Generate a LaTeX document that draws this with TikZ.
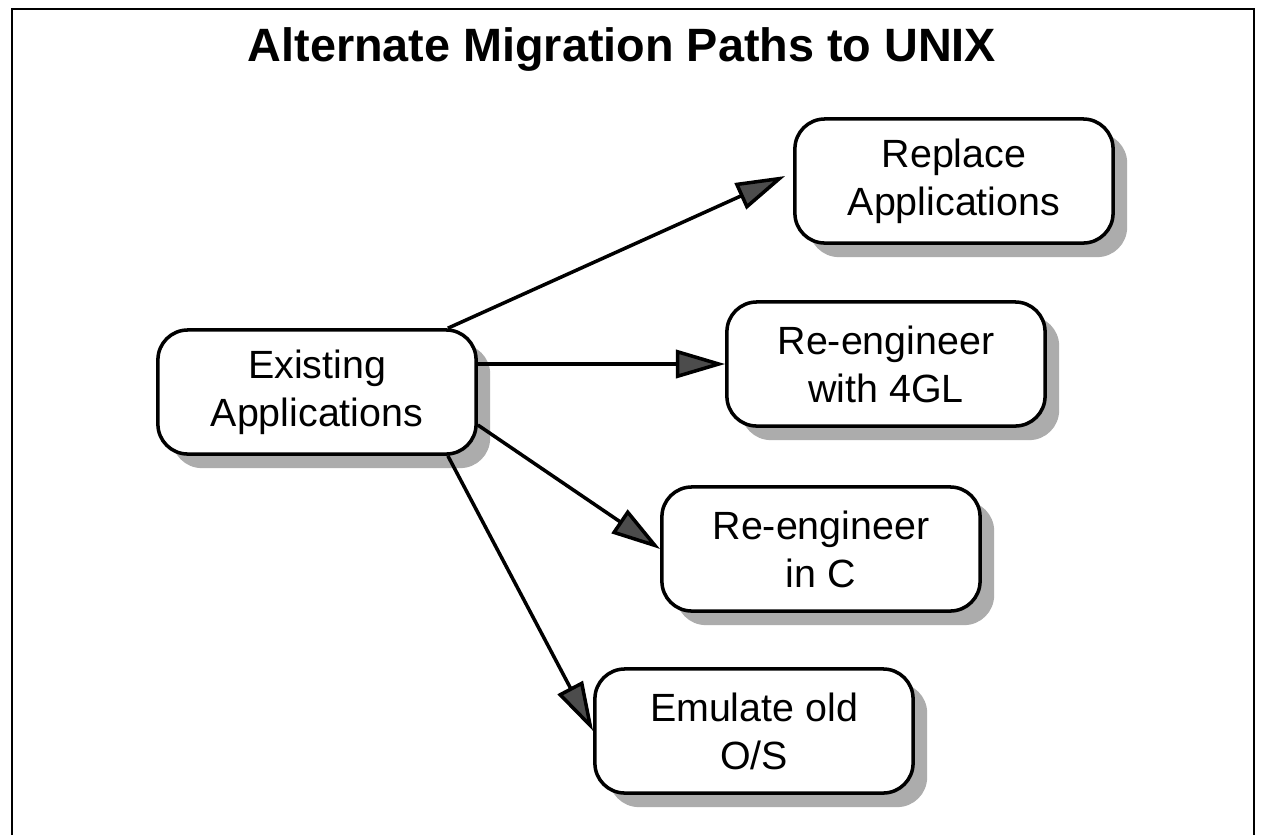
\documentclass[tikz,border=0pt]{standalone}
\usepackage{fontspec}
\setmainfont{Liberation Sans}
\usetikzlibrary{arrows.meta,shadows,calc}
\begin{document}
\begin{tikzpicture}[x=0.01cm,y=-0.01cm,
  box/.style={draw=black,line width=1pt,rounded corners=8.5pt,fill=white,
    minimum width=3.18cm,minimum height=1.24cm,align=center,
    font=\fontsize{11.2}{13.6}\selectfont,inner sep=0pt,
    drop shadow={shadow xshift=4pt,shadow yshift=-4pt,fill=gray!65,opacity=1}},
  conn/.style={line width=1pt,-{Triangle[length=14pt,width=8pt,fill=gray!60!black]}}]
\useasboundingbox (0,0) rectangle (1262,835);
\fill[white] (0,0) rectangle (1262,835);
\draw[line width=0.7pt] (12,835) -- (12,9) -- (1254,9) -- (1254,835);
\node[font=\bfseries\fontsize{13.3}{16}\selectfont] (title) at (622,49) {Alternate Migration Paths to UNIX};
\node[box] (ex) at (317,392) {Existing\\Applications};
\node[box] (rep) at (954,181) {Replace\\Applications};
\node[box] (r4) at (886,364) {Re-engineer\\with 4GL};
\node[box] (rc) at (821,549) {Re-engineer\\in C};
\node[box] (em) at (754,731) {Emulate old\\O/S};
\draw[conn] ($(ex.north east)+(-30,0)$) -- ($(rep.west)+(-8,-5)$);
\draw[conn] ($(ex.east)+(0,-28)$) -- (r4.west);
\draw[conn] ($(ex.east)+(0,33)$) -- (rc.west);
\draw[conn] ($(ex.south east)+(-30,0)$) -- (em.west);
\end{tikzpicture}
\end{document}
